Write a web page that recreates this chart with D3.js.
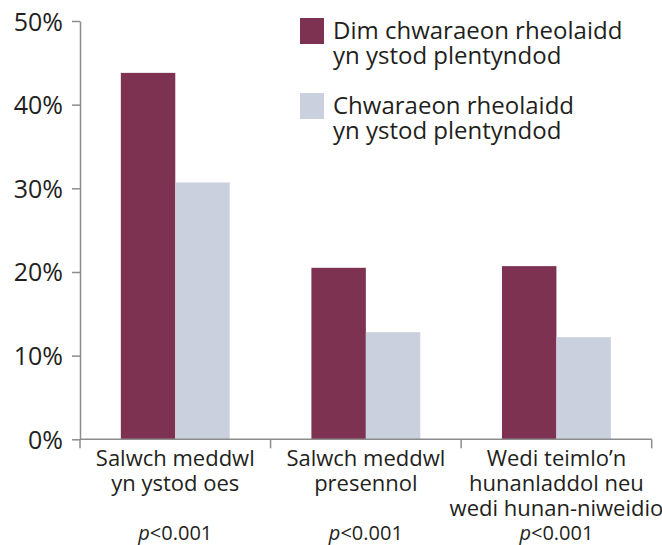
<!DOCTYPE html>
<html lang="cy">
<head>
<meta charset="utf-8">
<title>Chwaraeon rheolaidd</title>
<script src="https://cdn.jsdelivr.net/npm/d3@7"></script>
<style>
  body { margin: 0; background: #fff; }
  svg text { font-family: "Open Sans", "DejaVu Sans", sans-serif; fill: #231f20; }
  .axis path, .axis line { stroke: #8c8c8c; stroke-width: 1.5; }
</style>
</head>
<body>
<svg width="662" height="545"></svg>
<script>
// data
var categories = [
  ["Salwch meddwl", "yn ystod oes"],
  ["Salwch meddwl", "presennol"],
  ["Wedi teimlo\u2019n", "hunanladdol neu", "wedi hunan-niweidio"]
];
var seriesNames = [
  ["Dim chwaraeon rheolaidd", "yn ystod plentyndod"],
  ["Chwaraeon rheolaidd", "yn ystod plentyndod"]
];
var noSport = [0.438, 0.205, 0.207];
var sport   = [0.307, 0.128, 0.122];
var pValues = ["<0.001", "<0.001", "<0.001"];
var yTicks  = [0, 0.1, 0.2, 0.3, 0.4, 0.5];
var colours = ["#7e3251", "#cad0dd"];

var svg = d3.select("svg");
var plotLeft = 80, plotRight = 651.7, plotTop = 21, plotBottom = 439.3;

var x = d3.scaleBand()
    .domain(d3.range(categories.length))
    .range([plotLeft, plotRight]);

var x1 = d3.scaleBand()
    .domain([0, 1])
    .range([0, x.bandwidth()])
    .paddingOuter(0.75);

var y = d3.scaleLinear()
    .domain([0, 0.5])
    .range([plotBottom, plotTop]);

// bars
var groups = svg.selectAll(".grp")
  .data(categories.map(function(c, i) { return [noSport[i], sport[i]]; }))
  .enter().append("g")
    .attr("class", "grp")
    .attr("transform", function(d, i) { return "translate(" + x(i) + ",0)"; });

groups.selectAll("rect")
  .data(function(d) { return d; })
  .enter().append("rect")
    .attr("x", function(d, j) { return x1(j); })
    .attr("width", x1.bandwidth())
    .attr("y", function(d) { return y(d); })
    .attr("height", function(d) { return plotBottom - y(d); })
    .attr("fill", function(d, j) { return colours[j]; });

// y axis
var yAxis = svg.append("g")
    .attr("class", "axis")
    .attr("transform", "translate(" + plotLeft + ",0)")
    .call(d3.axisLeft(y).tickValues(yTicks).tickFormat(d3.format(".0%"))
      .tickSizeInner(8).tickSizeOuter(0).tickPadding(9));
yAxis.selectAll("text")
    .style("font-size", "25px")
    .attr("dy", "0.36em");

// x axis, ticks on band edges
var xAxis = svg.append("g")
    .attr("class", "axis")
    .attr("transform", "translate(0," + plotBottom + ")");
xAxis.append("path")
    .attr("d", "M" + plotLeft + ",0H" + plotRight);
xAxis.selectAll("line")
  .data(d3.range(categories.length + 1))
  .enter().append("line")
    .attr("x1", function(i) { return plotLeft + i * x.step(); })
    .attr("x2", function(i) { return plotLeft + i * x.step(); })
    .attr("y1", 0)
    .attr("y2", 9);

// category labels, one text per line
var catLines = [];
categories.forEach(function(c, i) {
  c.forEach(function(s, k) { catLines.push({s: s, i: i, k: k}); });
});
svg.selectAll(".cat")
  .data(catLines)
  .enter().append("text")
    .attr("class", "cat")
    .attr("text-anchor", "middle")
    .style("font-size", "22px")
    .attr("x", function(d) { return x(d.i) + x.bandwidth() / 2; })
    .attr("y", function(d) { return 466 + d.k * 25; })
    .text(function(d) { return d.s; });

// p values
var pv = svg.selectAll(".pv")
  .data(pValues)
  .enter().append("text")
    .attr("class", "pv")
    .attr("text-anchor", "middle")
    .attr("x", function(d, i) { return x(i) + x.bandwidth() / 2; })
    .attr("y", 540)
    .style("font-size", "20px");
pv.append("tspan").style("font-style", "italic").text("p");
pv.append("tspan").text(function(d) { return d; });

// legend
var legend = svg.selectAll(".leg")
  .data(seriesNames)
  .enter().append("g")
    .attr("class", "leg")
    .attr("transform", function(d, i) { return "translate(300," + (18 + i * 75) + ")"; });
legend.append("rect")
    .attr("width", 24)
    .attr("height", 26)
    .attr("fill", function(d, i) { return colours[i]; });
legend.selectAll("text")
  .data(function(d) { return d; })
  .enter().append("text")
    .style("font-size", "24px")
    .attr("x", 33)
    .attr("y", function(d, k) { return 21 + k * 25; })
    .text(function(d) { return d; });
</script>
</body>
</html>
